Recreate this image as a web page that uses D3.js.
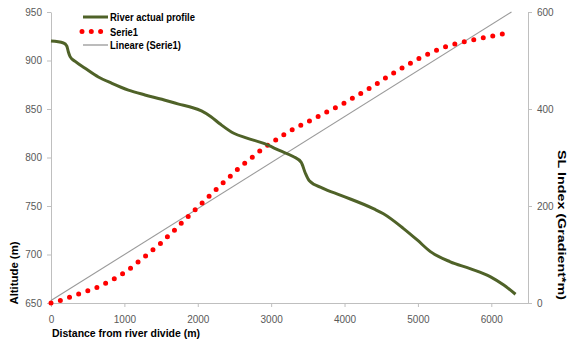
<!DOCTYPE html>
<html>
<head>
<meta charset="utf-8">
<script src="https://cdn.jsdelivr.net/npm/d3@7"></script>
<style>
  body { margin: 0; background: #fff; }
  svg { display: block; font-family: 'Liberation Sans', Arial, sans-serif; }
  .tick text { fill: #595959; font-size: 10px; }
  .tick line, .domain { stroke: #bfbfbf; }
  .title { font-weight: bold; fill: #000; font-size: 11.5px; }
  .legend text { font-weight: bold; fill: #000; font-size: 11px; }
</style>
</head>
<body>
<div id="chart"></div>
<script>
// River actual profile: distance (m), altitude (m)
const profileDist = [0, 170, 215, 236, 260, 330, 465, 645, 830, 1055, 1280, 1510, 1740, 1900, 2050, 2180, 2305, 2490, 2670, 2900, 3120, 3300, 3410, 3465, 3520, 3700, 3950, 4400, 4530, 4800, 4990, 5170, 5440, 5710, 5990, 6170, 6330];
const profileAlt = [920, 918, 915, 909, 904, 899, 892, 883, 876.5, 869.5, 864.5, 860, 855, 852, 848, 842, 834.5, 825, 820, 814.5, 807, 801, 795, 784, 776, 768.5, 761, 747, 742, 727, 715, 703, 692.5, 685.5, 677, 668.5, 659];

// Serie1: distance (m), SL index
const slDist = [0, 132, 255, 378, 500, 623, 746, 864, 973, 1078, 1183, 1282, 1382, 1487, 1582, 1674, 1764, 1859, 1954, 2050, 2145, 2236, 2332, 2427, 2523, 2622, 2723, 2823, 2932, 3041, 3150, 3259, 3372, 3491, 3610, 3723, 3841, 3959, 4073, 4187, 4300, 4409, 4518, 4632, 4745, 4859, 4973, 5091, 5209, 5332, 5455, 5582, 5709, 5836, 5968, 6095, 6270];
const slIndex = [0, 5.5, 12, 18.6, 25, 32, 41, 50, 60, 71, 84, 96, 109, 122, 136, 149, 163, 177, 191, 205, 219, 232, 246, 259, 273, 286, 298, 311, 323, 334, 345, 355, 364, 373, 382, 391, 400, 409, 419, 429, 439, 449, 460, 471, 481, 491, 501, 510, 518, 526, 532, 537, 541, 545, 549, 553, 557];

// Lineare (Serie1) trendline ends
const trendDist = [0, 6275];
const trendSL = [5, 600];

const xTicks = [0, 1000, 2000, 3000, 4000, 5000, 6000];
const altTicks = [650, 700, 750, 800, 850, 900, 950];
const slTicks = [0, 200, 400, 600];

const legendNames = ['River actual profile', 'Serie1', 'Lineare (Serie1)'];

const W = 568, H = 343;
const plotL = 51, plotR = 528, plotT = 12, plotB = 303;

const svg = d3.select('#chart').append('svg')
  .attr('width', W).attr('height', H);

const x = d3.scaleLinear().domain([0, 6500]).range([plotL, plotR]);
const yAlt = d3.scaleLinear().domain([650, 950]).range([plotB, plotT]);
const ySL = d3.scaleLinear().domain([0, 600]).range([plotB, plotT]);

// Axes
svg.append('g')
  .attr('transform', `translate(0,${plotB})`)
  .call(d3.axisBottom(x).tickValues(xTicks).tickFormat(d3.format('d'))
    .tickSize(4).tickPadding(9).tickSizeOuter(0));

svg.append('g')
  .attr('transform', `translate(${plotL},0)`)
  .call(d3.axisLeft(yAlt).tickValues(altTicks).tickSize(4).tickPadding(5).tickSizeOuter(0));

svg.append('g')
  .attr('transform', `translate(${plotR},0)`)
  .call(d3.axisRight(ySL).tickValues(slTicks).tickSize(4).tickPadding(5).tickSizeOuter(0));

svg.selectAll('g').attr('font-family', null).attr('font-size', null);

// Axis titles
svg.append('text')
  .attr('class', 'title')
  .attr('x', 52).attr('y', 337)
  .attr('textLength', 148).attr('lengthAdjust', 'spacingAndGlyphs')
  .text('Distance from river divide (m)');

svg.append('text')
  .attr('class', 'title')
  .attr('text-anchor', 'middle')
  .attr('transform', 'translate(18,273) rotate(-90)')
  .attr('textLength', 63).attr('lengthAdjust', 'spacingAndGlyphs')
  .text('Altitude (m)');

svg.append('text')
  .attr('class', 'title')
  .attr('text-anchor', 'middle')
  .attr('transform', 'translate(558,225) rotate(90)')
  .attr('textLength', 150).attr('lengthAdjust', 'spacingAndGlyphs')
  .text('SL Index (Gradient*m)');

// Trendline
const trend = d3.zip(trendDist, trendSL);
svg.append('path')
  .attr('d', d3.line().x(d => x(d[0])).y(d => ySL(d[1]))(trend))
  .attr('fill', 'none')
  .attr('stroke', '#9a9a9a')
  .attr('stroke-width', 1.1);

// Serie1 (round dot line)
const sl = d3.zip(slDist, slIndex);
svg.append('path')
  .attr('d', d3.line().x(d => x(d[0])).y(d => ySL(d[1])).curve(d3.curveMonotoneX)(sl))
  .attr('fill', 'none')
  .attr('stroke', '#ff0000')
  .attr('stroke-width', 5)
  .attr('stroke-linecap', 'round')
  .attr('stroke-dasharray', '0 9.7');

// River profile
const prof = d3.zip(profileDist, profileAlt);
svg.append('path')
  .attr('d', d3.line().x(d => x(d[0])).y(d => yAlt(d[1])).curve(d3.curveMonotoneX)(prof))
  .attr('fill', 'none')
  .attr('stroke', '#4f6228')
  .attr('stroke-width', 3)
  .attr('stroke-linejoin', 'round');

// Legend
const legend = svg.append('g').attr('class', 'legend');
const rowY = [17, 31.5, 45];
const textLen = [85, 28, 71];

legend.append('line')
  .attr('x1', 83).attr('x2', 108).attr('y1', rowY[0]).attr('y2', rowY[0])
  .attr('stroke', '#4f6228').attr('stroke-width', 3);
legend.append('line')
  .attr('x1', 82).attr('x2', 108).attr('y1', rowY[1]).attr('y2', rowY[1])
  .attr('stroke', '#ff0000').attr('stroke-width', 5)
  .attr('stroke-linecap', 'round').attr('stroke-dasharray', '0 9.3');
legend.append('line')
  .attr('x1', 83).attr('x2', 108).attr('y1', rowY[2]).attr('y2', rowY[2])
  .attr('stroke', '#a6a6a6').attr('stroke-width', 1.5);

legend.selectAll('text')
  .data(legendNames)
  .enter()
  .append('text')
  .attr('x', 110)
  .attr('y', (d, i) => rowY[i] + 4)
  .attr('textLength', (d, i) => textLen[i])
  .attr('lengthAdjust', 'spacingAndGlyphs')
  .text(d => d);
</script>
</body>
</html>
